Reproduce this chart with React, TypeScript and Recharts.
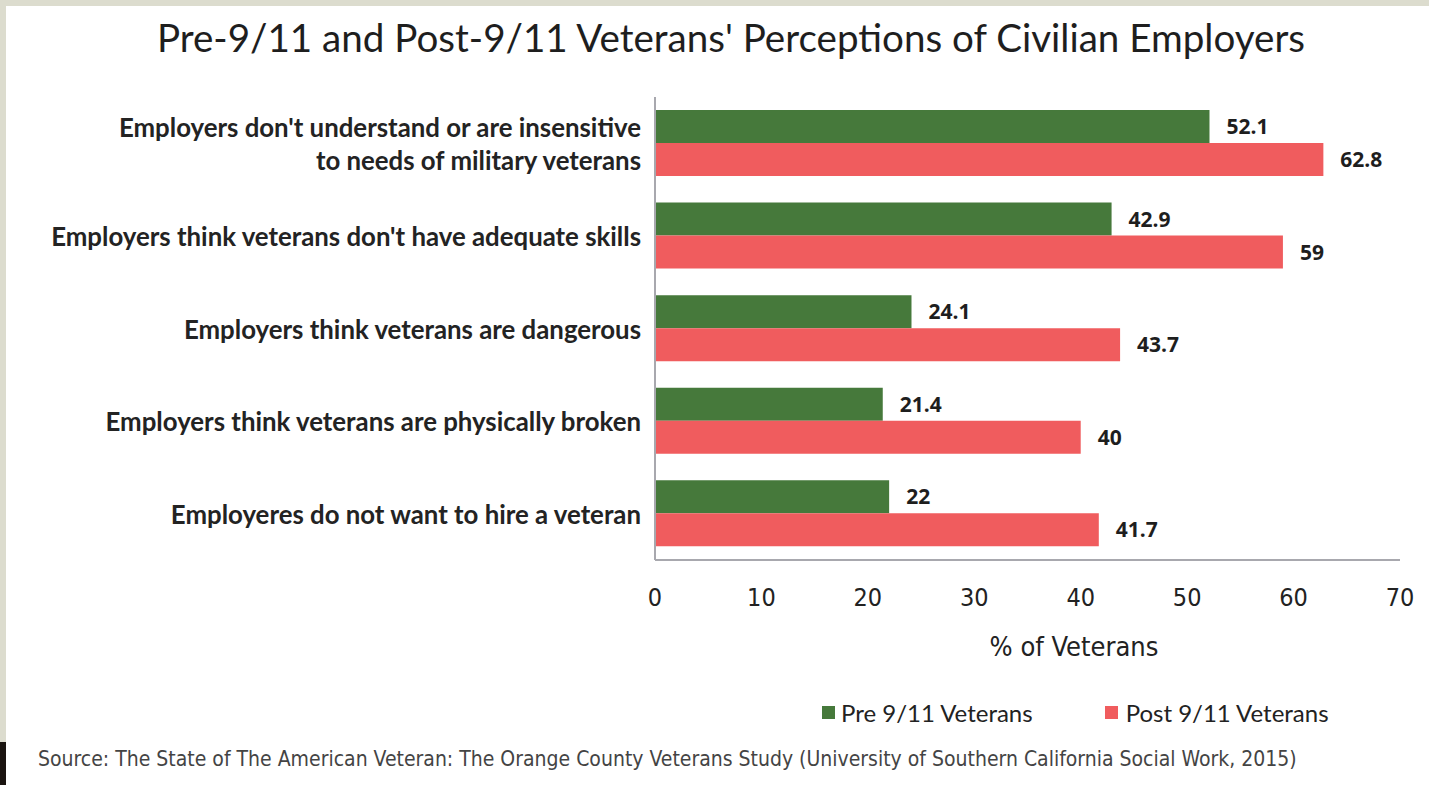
import { BarChart, Bar, XAxis, YAxis, LabelList } from "recharts";

const categories = [
  "Employers don't understand or are insensitive\nto needs of military veterans",
  "Employers think veterans don't have adequate skills",
  "Employers think veterans are dangerous",
  "Employers think veterans are physically broken",
  "Employeres do not want to hire a veteran ",
];
const preValues = [52.1, 42.9, 24.1, 21.4, 22];
const postValues = [62.8, 59, 43.7, 40, 41.7];
const xTicks = [0, 10, 20, 30, 40, 50, 60, 70];
const seriesNames = ["Pre 9/11 Veterans", "Post 9/11 Veterans"];

const GREEN = "#46793b";
const RED = "#f05c5e";
const AXIS = "#a8a8ae";
const NARROW = "'Liberation Sans Narrow', 'DejaVu Sans Condensed', Roboto, sans-serif";

const data = categories.map((name, i) => ({ name, pre: preValues[i], post: postValues[i] }));

function CategoryTick(props: any) {
  const { x, y, payload } = props;
  const lines = String(payload.value).split("\n");
  const lh = 33;
  const start = y - ((lines.length - 1) * lh) / 2;
  return (
    <text
      x={x - 6}
      y={start}
      textAnchor="end"
      fontFamily="Lato, sans-serif"
      fontWeight={700}
      fontSize={25.8}
      fill="#232323"
    >
      {lines.map((l, i) => (
        <tspan key={i} x={x - 6} y={start + i * lh} dominantBaseline="central">
          {l}
        </tspan>
      ))}
    </text>
  );
}

export default function App() {
  return (
    <div style={{ position: "absolute", left: 0, top: 0, width: 1429, height: 785, background: "#dcdcce", overflow: "hidden" }}>
      <div style={{ position: "absolute", left: 6, top: 6, right: 0, bottom: 0, background: "#fff" }} />
      <div style={{ position: "absolute", left: 0, top: 742, width: 6, height: 43, background: "#1a1410" }} />
      <div
        style={{
          position: "absolute",
          left: 0,
          width: 1462,
          top: 13,
          textAlign: "center",
          fontFamily: "Lato, sans-serif",
          fontWeight: 400,
          fontSize: 38.6,
          color: "#1e1e1e",
          lineHeight: "48px",
        }}
      >
        Pre-9/11 and Post-9/11 Veterans' Perceptions of Civilian Employers
      </div>
      <div style={{ position: "absolute", left: 0, top: 0 }}>
        <BarChart
          width={1429}
          height={785}
          data={data}
          layout="vertical"
          margin={{ top: 97, right: 29, bottom: 165, left: 0 }}
          barCategoryGap="14%"
          barGap={0}
        >
          <XAxis
            type="number"
            domain={[0, 70]}
            ticks={xTicks}
            interval={0}
            height={60}
            axisLine={{ stroke: AXIS, strokeWidth: 2 }}
            tickLine={false}
            tickMargin={22}
            tick={{ fontFamily: NARROW, fontSize: 25, fill: "#222" }}
          />
          <YAxis
            type="category"
            dataKey="name"
            width={655}
            axisLine={{ stroke: AXIS, strokeWidth: 2 }}
            tickLine={false}
            interval={0}
            tick={<CategoryTick />}
          />
          <Bar dataKey="pre" fill={GREEN} isAnimationActive={false}>
            <LabelList
              dataKey="pre"
              position="right"
              offset={17}
              style={{ fontFamily: "'Open Sans', sans-serif", fontWeight: 700, fontSize: 21, fill: "#1e1e1e" }}
            />
          </Bar>
          <Bar dataKey="post" fill={RED} isAnimationActive={false}>
            <LabelList
              dataKey="post"
              position="right"
              offset={17}
              style={{ fontFamily: "'Open Sans', sans-serif", fontWeight: 700, fontSize: 21, fill: "#1e1e1e" }}
            />
          </Bar>
        </BarChart>
      </div>
      <div
        style={{
          position: "absolute",
          left: 974,
          width: 200,
          top: 631,
          textAlign: "center",
          fontFamily: NARROW,
          fontSize: 27,
          color: "#222",
        }}
      >
        % of Veterans
      </div>
      <div
        style={{
          position: "absolute",
          top: 698,
          left: 822,
          display: "flex",
          alignItems: "center",
          fontFamily: "Lato, sans-serif",
          fontSize: 24,
          color: "#222",
        }}
      >
        <span style={{ width: 13, height: 13, background: GREEN, marginRight: 6, display: "inline-block" }} />
        <span style={{ marginRight: 72 }}>{seriesNames[0]}</span>
        <span style={{ width: 13, height: 13, background: RED, marginRight: 8, display: "inline-block" }} />
        <span>{seriesNames[1]}</span>
      </div>
      <div
        style={{
          position: "absolute",
          top: 747,
          left: 38,
          fontFamily: NARROW,
          fontSize: 21,
          color: "#444",
          whiteSpace: "nowrap",
        }}
      >
        Source: The State of The American Veteran: The Orange County Veterans Study (University of Southern California Social Work, 2015)
      </div>
    </div>
  );
}
